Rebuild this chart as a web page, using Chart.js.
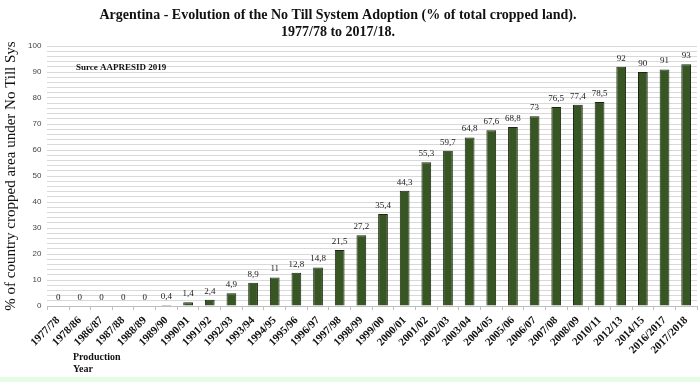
<!DOCTYPE html>
<html>
<head>
<meta charset="utf-8">
<script src="https://cdn.jsdelivr.net/npm/chart.js@4.4.0/dist/chart.umd.min.js"></script>
<style>
    html, body { margin: 0; padding: 0; background: #fff; }
    #wrap { position: relative; width: 700px; height: 382px; }
    #strip { position: absolute; left: 0; right: 0; bottom: 0; height: 5px; background: #e4fbe4; }
</style>
</head>
<body>
<div id="wrap">
    <canvas id="noTillChart" width="700" height="382"></canvas>
    <div id="strip"></div>
</div>
<script>
// Data
const seasons = ['1977/78', '1978/86', '1986/87', '1987/88', '1988/89', '1989/90', '1990/91',
    '1991/92', '1992/93', '1993/94', '1994/95', '1995/96', '1996/97', '1997/98', '1998/99',
    '1999/00', '2000/01', '2001/02', '2002/03', '2003/04', '2004/05', '2005/06', '2006/07',
    '2007/08', '2008/09', '2010/11', '2012/13', '2014/15', '2016/2017', '2017/2018'];
const adoptionPct = [0, 0, 0, 0, 0, 0.4, 1.4, 2.4, 4.9, 8.9, 11, 12.8, 14.8, 21.5, 27.2,
    35.4, 44.3, 55.3, 59.7, 64.8, 67.6, 68.8, 73, 76.5, 77.4, 78.5, 92, 90, 91, 93];
const titleLines = ['Argentina - Evolution of the No Till System Adoption (% of total cropped land).', '1977/78 to 2017/18.'];
const sourceNote = 'Surce AAPRESID 2019';
const xAxisNote = ['Production', 'Year'];

const serif = '"Liberation Serif", "Times New Roman", serif';

// title, value labels and the small notes
const notesPlugin = {
    id: 'notes',
    afterDatasetsDraw(chart) {
        const c = chart.ctx;
        const meta = chart.getDatasetMeta(0);
        c.save();
        c.fillStyle = '#222';
        c.font = '9px ' + serif;
        c.textAlign = 'center';
        c.textBaseline = 'bottom';
        meta.data.forEach((bar, i) => {
            const txt = String(adoptionPct[i]).replace('.', ',');
            c.fillText(txt, bar.x, bar.y - 4);
        });
        c.restore();
    },
    afterDraw(chart) {
        const c = chart.ctx;
        c.save();
        c.fillStyle = '#111';
        c.textBaseline = 'middle';

        // title (the original is centred a bit left of the page middle)
        c.font = 'bold 14px ' + serif;
        c.textAlign = 'center';
        c.fillText(titleLines[0], 338, 15);
        c.fillText(titleLines[1], 338, 32);

        c.textAlign = 'left';
        c.font = 'bold 9px ' + serif;
        c.fillText(sourceNote, 76, 68);
        c.font = 'bold 10px ' + serif;
        c.fillText(xAxisNote[0], 73, 357);
        c.fillText(xAxisNote[1], 73, 369);
        c.restore();
    }
};

new Chart(document.getElementById('noTillChart'), {
    type: 'bar',
    data: {
        labels: seasons,
        datasets: [{
            data: adoptionPct,
            backgroundColor: '#375623',
            borderColor: '#1a2610',
            borderWidth: 1,
            barPercentage: 0.45,
            categoryPercentage: 1
        }]
    },
    options: {
        responsive: false,
        animation: false,
        layout: {
            padding: { left: 2, right: 3, top: 46, bottom: 0 }
        },
        plugins: {
            legend: { display: false },
            tooltip: { enabled: false },
            title: { display: false }
        },
        scales: {
            y: {
                min: 0,
                max: 100,
                border: { display: false },
                grid: { color: '#d9d9d9', drawTicks: false },
                ticks: {
                    stepSize: 2,
                    autoSkip: false,
                    padding: 6,
                    color: '#444',
                    font: { family: '"Liberation Sans", Arial, sans-serif', size: 8 },
                    callback: v => (v % 10 === 0 ? v : '')
                },
                title: {
                    display: true,
                    text: '% of country cropped area under No Till Sys',
                    color: '#111',
                    font: { family: serif, size: 15 },
                    padding: { top: 0, bottom: 2 }
                }
            },
            x: {
                border: { display: true, color: '#bfbfbf' },
                grid: { offset: true, drawOnChartArea: false, color: '#bfbfbf', tickLength: 4 },
                afterFit(scale) {
                    scale.height = 76;
                },
                ticks: {
                    maxRotation: 45,
                    minRotation: 45,
                    autoSkip: false,
                    padding: 4,
                    color: '#111',
                    font: { family: serif, size: 11, weight: 'bold' }
                }
            }
        }
    },
    plugins: [notesPlugin]
});
</script>
</body>
</html>
